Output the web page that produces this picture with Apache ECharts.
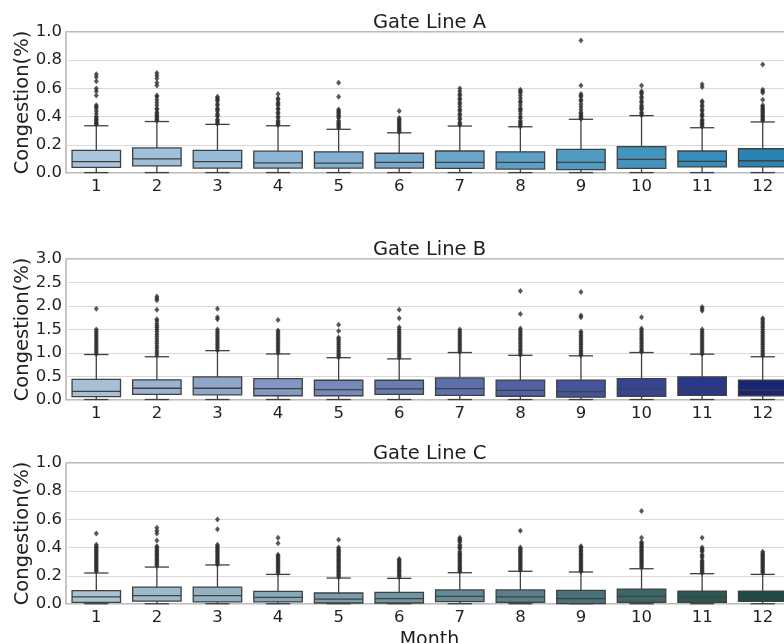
<!DOCTYPE html>
<html>
<head>
<meta charset="utf-8">
<script src="https://cdn.jsdelivr.net/npm/echarts@6/dist/echarts.min.js"></script>
<style>
  html, body { margin: 0; padding: 0; background: #fff; }
  #chart { width: 784px; height: 643px; }
</style>
</head>
<body>
<div id="chart"></div>
<script>
// months on the x axis
const months = ['1', '2', '3', '4', '5', '6', '7', '8', '9', '10', '11', '12'];
const titles = ['Gate Line A', 'Gate Line B', 'Gate Line C'];

// box stats per month: [lower whisker, Q1, median, Q3, upper whisker]
const boxA = [
  [0.003, 0.040, 0.080, 0.160, 0.335],
  [0.003, 0.050, 0.100, 0.178, 0.365],
  [0.003, 0.035, 0.080, 0.160, 0.345],
  [0.003, 0.035, 0.072, 0.155, 0.335],
  [0.003, 0.035, 0.070, 0.150, 0.310],
  [0.003, 0.035, 0.075, 0.140, 0.285],
  [0.003, 0.033, 0.076, 0.156, 0.333],
  [0.003, 0.028, 0.076, 0.150, 0.328],
  [0.003, 0.024, 0.076, 0.168, 0.381],
  [0.003, 0.033, 0.097, 0.187, 0.407],
  [0.003, 0.043, 0.083, 0.156, 0.321],
  [0.003, 0.043, 0.087, 0.172, 0.362]
];
const boxB = [
  [0.01, 0.07, 0.185, 0.440, 0.967],
  [0.01, 0.12, 0.250, 0.430, 0.920],
  [0.01, 0.11, 0.250, 0.490, 1.050],
  [0.01, 0.09, 0.240, 0.455, 0.980],
  [0.01, 0.09, 0.220, 0.420, 0.900],
  [0.01, 0.12, 0.235, 0.420, 0.875],
  [0.01, 0.10, 0.240, 0.470, 1.010],
  [0.01, 0.08, 0.205, 0.425, 0.950],
  [0.01, 0.06, 0.180, 0.425, 0.940],
  [0.01, 0.08, 0.240, 0.455, 1.010],
  [0.01, 0.10, 0.235, 0.490, 0.975],
  [0.01, 0.09, 0.210, 0.425, 0.920]
];
const boxC = [
  [0.002, 0.012, 0.050, 0.095, 0.220],
  [0.002, 0.020, 0.060, 0.120, 0.262],
  [0.002, 0.015, 0.060, 0.120, 0.277],
  [0.002, 0.015, 0.047, 0.090, 0.210],
  [0.002, 0.007, 0.035, 0.078, 0.184],
  [0.002, 0.007, 0.038, 0.083, 0.182],
  [0.002, 0.017, 0.054, 0.100, 0.222],
  [0.002, 0.012, 0.050, 0.100, 0.232],
  [0.002, 0.002, 0.038, 0.097, 0.227],
  [0.002, 0.012, 0.054, 0.106, 0.250],
  [0.002, 0.012, 0.047, 0.092, 0.215],
  [0.002, 0.019, 0.052, 0.092, 0.210]
];

// outliers per month
const outA = [
  [0.70, 0.68, 0.65, 0.60, 0.58, 0.55, 0.48, 0.47, 0.46, 0.44, 0.42, 0.40, 0.39, 0.38, 0.37, 0.36, 0.35, 0.345],
  [0.71, 0.69, 0.67, 0.64, 0.62, 0.55, 0.54, 0.52, 0.50, 0.48, 0.46, 0.45, 0.43, 0.42, 0.41, 0.40, 0.39, 0.38, 0.37],
  [0.54, 0.53, 0.52, 0.51, 0.49, 0.48, 0.46, 0.45, 0.44, 0.42, 0.41, 0.40, 0.38, 0.37, 0.36, 0.35],
  [0.56, 0.53, 0.52, 0.50, 0.49, 0.48, 0.46, 0.45, 0.43, 0.42, 0.40, 0.39, 0.37, 0.36, 0.35, 0.34],
  [0.64, 0.54, 0.45, 0.44, 0.43, 0.42, 0.41, 0.40, 0.39, 0.37, 0.36, 0.35, 0.34, 0.33, 0.32],
  [0.44, 0.39, 0.38, 0.37, 0.36, 0.35, 0.34, 0.33, 0.32, 0.31, 0.30, 0.29],
  [0.60, 0.58, 0.56, 0.55, 0.53, 0.52, 0.50, 0.49, 0.47, 0.45, 0.44, 0.42, 0.41, 0.39, 0.38, 0.36, 0.35, 0.34],
  [0.59, 0.58, 0.57, 0.55, 0.53, 0.51, 0.50, 0.48, 0.46, 0.45, 0.44, 0.42, 0.40, 0.39, 0.37, 0.36, 0.35, 0.34, 0.33],
  [0.94, 0.62, 0.56, 0.55, 0.54, 0.52, 0.51, 0.49, 0.47, 0.45, 0.43, 0.42, 0.41, 0.40, 0.39, 0.385],
  [0.62, 0.58, 0.57, 0.56, 0.54, 0.53, 0.51, 0.50, 0.48, 0.47, 0.46, 0.45, 0.43, 0.42, 0.41],
  [0.63, 0.61, 0.51, 0.50, 0.48, 0.47, 0.45, 0.44, 0.42, 0.41, 0.40, 0.38, 0.37, 0.36, 0.35, 0.34, 0.33],
  [0.77, 0.59, 0.58, 0.57, 0.52, 0.48, 0.47, 0.46, 0.45, 0.44, 0.43, 0.42, 0.41, 0.40, 0.39, 0.38, 0.37]
];
const outB = [
  [1.94, 1.50, 1.46, 1.42, 1.38, 1.34, 1.30, 1.26, 1.22, 1.18, 1.14, 1.10, 1.06, 1.02, 0.98],
  [2.20, 2.16, 2.12, 1.92, 1.72, 1.68, 1.62, 1.58, 1.54, 1.50, 1.45, 1.40, 1.35, 1.30, 1.25, 1.20, 1.15, 1.10, 1.05, 1.00, 0.95],
  [1.94, 1.76, 1.72, 1.50, 1.46, 1.42, 1.38, 1.34, 1.30, 1.26, 1.22, 1.18, 1.14, 1.10, 1.06],
  [1.70, 1.48, 1.44, 1.40, 1.36, 1.32, 1.28, 1.24, 1.20, 1.16, 1.12, 1.08, 1.04, 1.00],
  [1.60, 1.47, 1.33, 1.30, 1.26, 1.22, 1.18, 1.14, 1.10, 1.06, 1.02, 0.98, 0.94, 0.91],
  [1.92, 1.74, 1.55, 1.50, 1.46, 1.42, 1.38, 1.34, 1.30, 1.26, 1.22, 1.18, 1.14, 1.10, 1.06, 1.02, 0.98, 0.94, 0.90],
  [1.50, 1.46, 1.42, 1.38, 1.34, 1.30, 1.26, 1.22, 1.18, 1.14, 1.10, 1.06, 1.02],
  [2.32, 1.83, 1.52, 1.48, 1.44, 1.40, 1.36, 1.32, 1.28, 1.24, 1.20, 1.16, 1.12, 1.08, 1.04, 1.00, 0.96],
  [2.30, 1.80, 1.76, 1.46, 1.42, 1.38, 1.34, 1.30, 1.26, 1.22, 1.18, 1.14, 1.10, 1.06, 1.02, 0.98, 0.95],
  [1.76, 1.52, 1.48, 1.44, 1.40, 1.36, 1.32, 1.28, 1.24, 1.20, 1.16, 1.12, 1.08, 1.04, 1.02],
  [1.98, 1.94, 1.90, 1.50, 1.46, 1.42, 1.38, 1.34, 1.30, 1.26, 1.22, 1.18, 1.14, 1.10, 1.06, 1.02, 0.98],
  [1.74, 1.70, 1.66, 1.62, 1.58, 1.54, 1.50, 1.46, 1.42, 1.38, 1.34, 1.30, 1.26, 1.22, 1.18, 1.14, 1.10, 1.06, 1.02, 0.98, 0.94]
];
const outC = [
  [0.50, 0.42, 0.41, 0.40, 0.39, 0.38, 0.37, 0.36, 0.35, 0.34, 0.33, 0.32, 0.31, 0.30, 0.29, 0.28, 0.27, 0.26, 0.25, 0.24, 0.23],
  [0.54, 0.52, 0.50, 0.45, 0.41, 0.40, 0.39, 0.38, 0.37, 0.36, 0.35, 0.34, 0.33, 0.32, 0.31, 0.30, 0.29, 0.28, 0.27],
  [0.60, 0.53, 0.42, 0.41, 0.40, 0.39, 0.38, 0.37, 0.36, 0.35, 0.34, 0.33, 0.32, 0.31, 0.30, 0.29, 0.28],
  [0.47, 0.43, 0.35, 0.34, 0.33, 0.32, 0.31, 0.30, 0.29, 0.28, 0.27, 0.26, 0.25, 0.24, 0.23, 0.22],
  [0.455, 0.40, 0.39, 0.38, 0.37, 0.36, 0.35, 0.34, 0.33, 0.32, 0.31, 0.30, 0.29, 0.28, 0.27, 0.26, 0.25, 0.24, 0.23, 0.22, 0.21, 0.20, 0.19],
  [0.32, 0.31, 0.30, 0.29, 0.28, 0.27, 0.26, 0.25, 0.24, 0.23, 0.22, 0.21, 0.20, 0.19],
  [0.47, 0.46, 0.45, 0.44, 0.42, 0.41, 0.40, 0.39, 0.37, 0.36, 0.35, 0.34, 0.33, 0.32, 0.31, 0.30, 0.29, 0.28, 0.27, 0.26, 0.25, 0.24, 0.23],
  [0.52, 0.40, 0.39, 0.38, 0.37, 0.36, 0.35, 0.34, 0.33, 0.32, 0.31, 0.30, 0.29, 0.28, 0.27, 0.26, 0.25, 0.24],
  [0.41, 0.40, 0.39, 0.38, 0.37, 0.36, 0.35, 0.34, 0.33, 0.32, 0.31, 0.30, 0.29, 0.28, 0.27, 0.26, 0.25, 0.24, 0.23],
  [0.66, 0.47, 0.44, 0.43, 0.42, 0.41, 0.40, 0.39, 0.38, 0.37, 0.36, 0.35, 0.34, 0.33, 0.32, 0.31, 0.30, 0.29, 0.28, 0.27, 0.26],
  [0.47, 0.40, 0.39, 0.38, 0.37, 0.35, 0.34, 0.33, 0.31, 0.30, 0.29, 0.28, 0.27, 0.26, 0.25, 0.24, 0.23, 0.22],
  [0.37, 0.36, 0.35, 0.34, 0.33, 0.32, 0.31, 0.30, 0.29, 0.28, 0.27, 0.26, 0.25, 0.24, 0.23, 0.22]
];

// box fill colours, light to dark per month
const colorsA = ['#a9c5dd', '#a0c0da', '#97bad7', '#8db5d4', '#82b0d1', '#77aacd', '#6ba5ca', '#5e9fc6', '#519ac2', '#4494be', '#368dba', '#2984b3'];
const colorsB = ['#a8bfd8', '#9bb2d1', '#8fa5c9', '#8298c2', '#758aba', '#697db3', '#5d70ab', '#5062a3', '#43549b', '#364593', '#29368a', '#1b2575'];
const colorsC = ['#a9c3d3', '#9dbacb', '#92b1c2', '#86a8b9', '#7a9eb0', '#7095a3', '#658b98', '#587f8a', '#4a727a', '#3d6669', '#2b5852', '#1a4c44'];

const panels = [
  { box: boxA, out: outA, colors: colorsA, max: 1, interval: 0.2, top: 32, titleTop: 13 },
  { box: boxB, out: outB, colors: colorsB, max: 3, interval: 0.5, top: 259, titleTop: 240 },
  { box: boxC, out: outC, colors: colorsC, max: 1, interval: 0.2, top: 463, titleTop: 444 }
];

const font = 'DejaVu Sans';
const ink = '#1f1f1f';
const edge = '#404040';

function boxRenderer(colors) {
  return function (params, api) {
    const i = api.value(0);
    const w = api.size([1, 0])[0] * 0.8;
    const pt = k => api.coord([i, api.value(k)]);
    const lo = pt(1), q1 = pt(2), md = pt(3), q3 = pt(4), hi = pt(5);
    const x = lo[0];
    const line = { stroke: edge, lineWidth: 1.3 };
    return {
      type: 'group',
      children: [
        { type: 'line', shape: { x1: x, y1: lo[1], x2: x, y2: q1[1] }, style: line },
        { type: 'line', shape: { x1: x, y1: q3[1], x2: x, y2: hi[1] }, style: line },
        { type: 'line', shape: { x1: x - w / 4, y1: lo[1], x2: x + w / 4, y2: lo[1] }, style: line },
        { type: 'line', shape: { x1: x - w / 4, y1: hi[1], x2: x + w / 4, y2: hi[1] }, style: line },
        { type: 'rect', shape: { x: x - w / 2, y: q3[1], width: w, height: q1[1] - q3[1] },
          style: { fill: colors[i], stroke: edge, lineWidth: 1.3 } },
        { type: 'line', shape: { x1: x - w / 2, y1: md[1], x2: x + w / 2, y2: md[1] }, style: line }
      ]
    };
  };
}

const grid = [], xAxis = [], yAxis = [], series = [], title = [];
panels.forEach((p, k) => {
  title.push({
    text: titles[k], left: 373, top: p.titleTop, padding: 0,
    textStyle: { fontFamily: font, fontSize: 19.5, fontWeight: 'normal', color: ink }
  });
  grid.push({
    left: 66, top: p.top, width: 727, height: 141,
    outerBoundsMode: 'none', containLabel: false,
    show: true, borderColor: '#a6a6a6', borderWidth: 1.3, backgroundColor: 'transparent'
  });
  xAxis.push({
    type: 'category', gridIndex: k, data: months, boundaryGap: true,
    axisLine: { show: false }, axisTick: { show: false },
    axisLabel: { fontFamily: font, fontSize: 16.5, color: ink, margin: 5 },
    name: k === 2 ? 'Month' : '', nameLocation: 'middle', nameGap: 27, nameMoveOverlap: false,
    nameTextStyle: { fontFamily: font, fontSize: 19, color: ink }
  });
  yAxis.push({
    type: 'value', gridIndex: k, min: 0, max: p.max, interval: p.interval,
    axisLine: { show: false }, axisTick: { show: false },
    splitLine: { lineStyle: { color: '#d9d9d9', width: 1 } },
    axisLabel: { fontFamily: font, fontSize: 16.5, color: ink, margin: 4, formatter: v => v.toFixed(1) },
    name: 'Congestion(%)', nameLocation: 'middle', nameGap: 33, nameMoveOverlap: false,
    nameTextStyle: { fontFamily: font, fontSize: 19.5, color: ink }
  });
  series.push({
    type: 'custom', xAxisIndex: k, yAxisIndex: k,
    renderItem: boxRenderer(p.colors),
    encode: { x: 0, y: [1, 2, 3, 4, 5] },
    data: p.box.map((b, i) => [i].concat(b)),
    z: 2
  });
  const pts = [];
  p.out.forEach((vals, i) => vals.forEach(v => pts.push([i, v])));
  series.push({
    type: 'scatter', xAxisIndex: k, yAxisIndex: k,
    symbol: 'diamond', symbolSize: [5, 6],
    itemStyle: { color: '#2e2e2e' },
    data: pts, z: 3
  });
});

const chart = echarts.init(document.getElementById('chart'), null, { renderer: 'canvas' });
chart.setOption({
  animation: false,
  backgroundColor: '#ffffff',
  title, grid, xAxis, yAxis, series
});
</script>
</body>
</html>
